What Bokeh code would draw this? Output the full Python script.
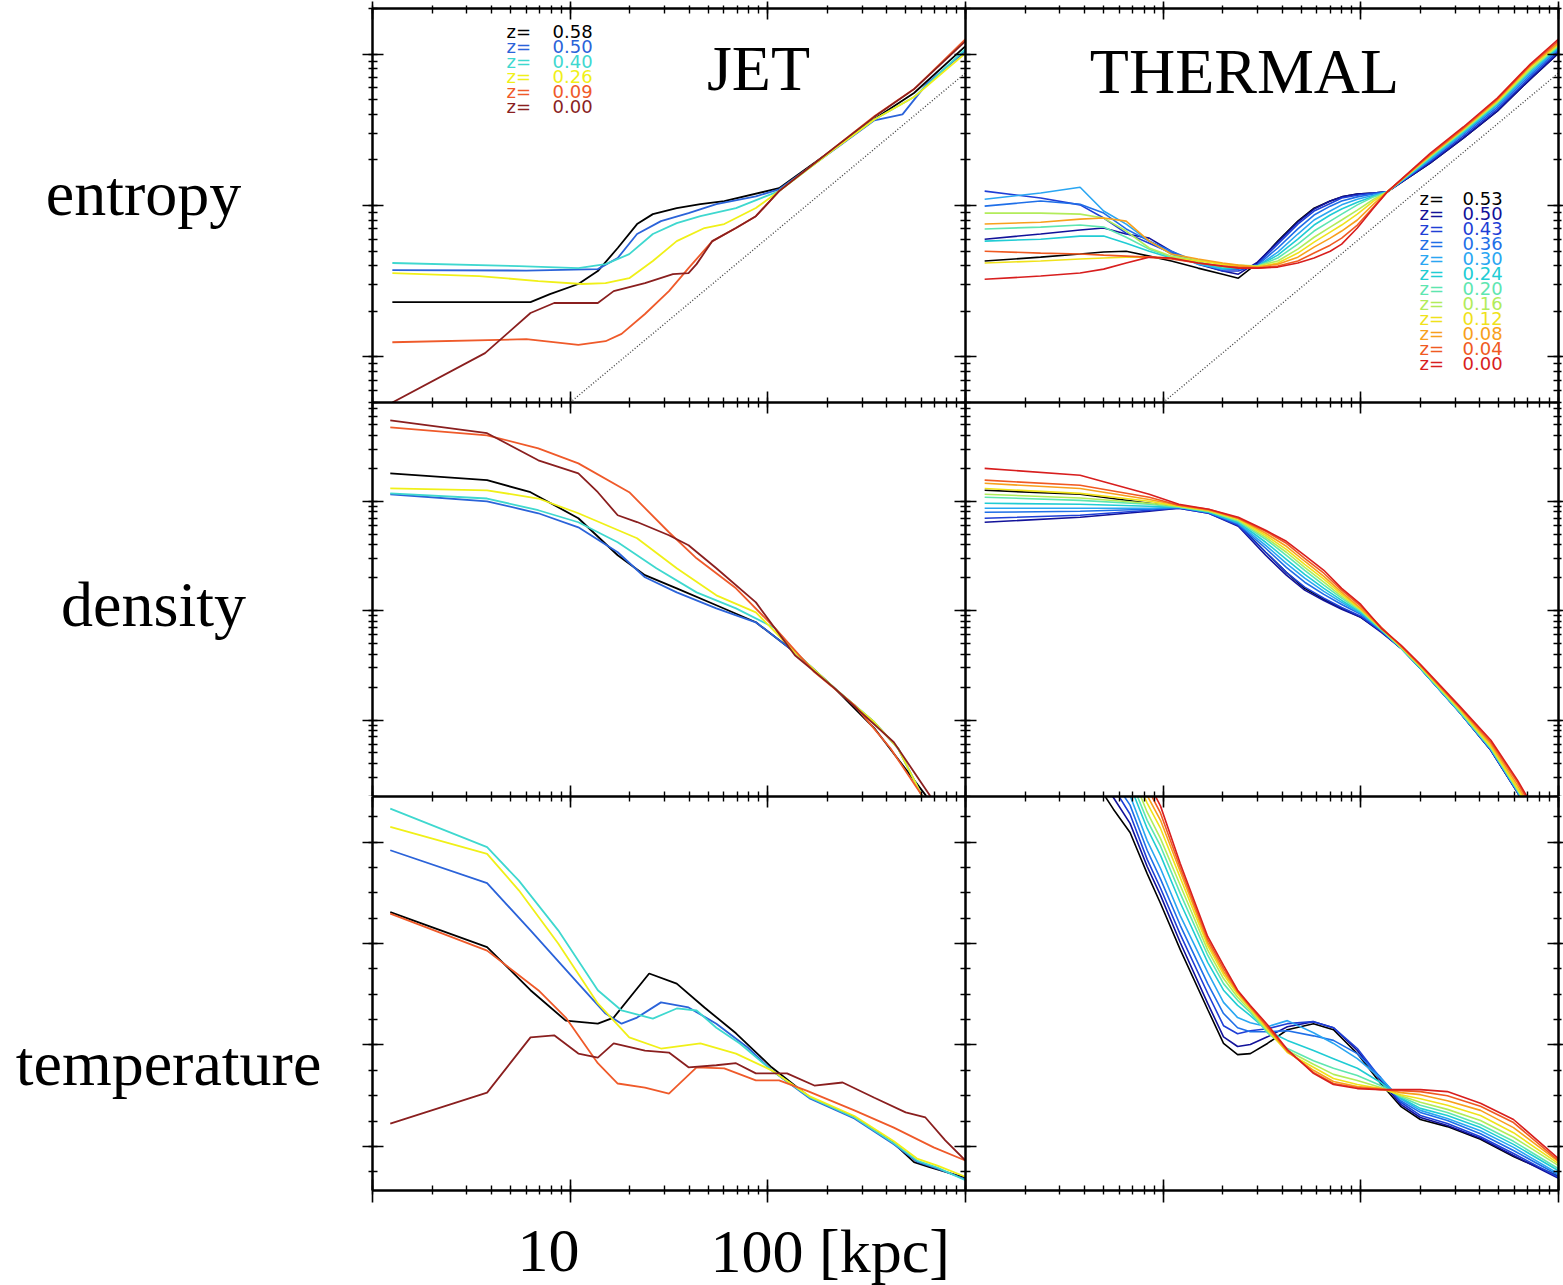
import math
from bokeh.plotting import figure
from bokeh.layouts import column, row
from bokeh.models import Range1d, LogAxis, LinearAxis, LogTicker, SingleIntervalTicker
from bokeh.core.properties import value
from bokeh.embed import file_html
from bokeh.resources import INLINE

# ------------------------------------------------------------------
# JET run: six snapshots (redshift, colour)
# ------------------------------------------------------------------
jet_z = ["0.58", "0.50", "0.40", "0.26", "0.09", "0.00"]
jet_colors = ["#000000", "#2b63d9", "#3fd8cf", "#f0f018", "#ef5a2a", "#8a1f1f"]

# entropy [keV cm^2] against radius [kpc]
jet_entropy_r = [
    [1.26, 6.3, 7.9, 11, 13.8, 17.4, 21.8, 26.2, 34.6, 45.6, 60.2, 114, 218, 346, 549, 1000],
    [1.26, 6.0, 13.8, 17.4, 21.8, 28.8, 39.7, 54.9, 87, 114, 218, 346, 480, 640, 1000],
    [1.26, 5.5, 11, 15.1, 19.9, 26.2, 34.6, 45.6, 69, 114, 218, 346, 549, 1000],
    [1.26, 3.46, 6.9, 11.5, 15.1, 19.9, 26.2, 34.6, 47.8, 60.2, 87, 114, 218, 346, 549, 1000],
    [1.26, 6.0, 11, 15.1, 18.2, 23.9, 31.6, 39.7, 52.4, 69, 87, 114, 218, 346, 549, 1000],
    [1.26, 3.71, 6.3, 8.3, 13.8, 16.6, 23.9, 33.1, 39.7, 43.6, 52.4, 69, 87, 114, 218, 346, 549, 1000],
]
jet_entropy_K = [
    [23.0, 23.0, 26.0, 30.3, 36.9, 52.4, 75.4, 87.7, 96.2, 102, 107, 130, 239, 372, 553, 1130],
    [37.4, 37.2, 38.0, 45.0, 64.8, 78.9, 89.1, 102, 115, 128, 235, 365, 400, 640, 1047],
    [41.7, 39.8, 38.6, 41.0, 47.7, 64.8, 76.5, 85, 96.2, 124.5, 237, 370, 520, 1080],
    [35.8, 34.2, 31.7, 30.3, 30.7, 33.1, 43.0, 58.2, 71, 75.4, 96.2, 124.5, 237, 370, 520, 1015],
    [12.5, 13.1, 12.0, 12.7, 14.2, 19.2, 27.2, 38.6, 58.2, 71, 85, 124.5, 242, 389, 587, 1256],
    [5.0, 10.6, 19.5, 22.7, 22.7, 27.2, 30.7, 35.2, 35.8, 41.0, 58.2, 71, 85, 124.5, 242, 385, 587, 1219],
]

# electron density [cm^-3]
jet_density_r = [
    [1.23, 3.8, 6.3, 11, 17.4, 23.9, 34.6, 54.9, 87, 137, 218, 346, 628, 680],
    [1.23, 3.8, 6.9, 11, 17.4, 23.9, 34.6, 54.9, 87, 137, 218, 346, 456, 600, 660],
    [1.23, 3.8, 6.9, 11, 17.4, 27.3, 43.6, 69, 109, 137, 218, 346, 456, 600, 660],
    [1.23, 3.8, 6.9, 11, 21.8, 34.6, 54.9, 87, 137, 218, 346, 456, 600, 660],
    [1.23, 3.8, 6.9, 11, 19.9, 31.6, 43.6, 69, 109, 172, 274, 417, 600, 660],
    [1.23, 3.8, 6.9, 11, 13.8, 17.4, 21.8, 31.6, 39.7, 54.9, 87, 137, 218, 434, 658, 720],
]
jet_density_n = [
    [0.180, 0.156, 0.121, 0.0700, 0.0321, 0.0211, 0.0160, 0.0112, 0.00783, 0.00417, 0.00195, 0.000841, 0.000206, 0.000135],
    [0.116, 0.100, 0.0777, 0.0578, 0.0342, 0.0202, 0.0147, 0.0105, 0.00783, 0.00417, 0.00195, 0.000955, 0.000552, 0.000206, 0.000135],
    [0.118, 0.106, 0.0828, 0.0643, 0.0422, 0.0244, 0.0147, 0.0105, 0.00690, 0.00417, 0.00195, 0.000955, 0.000552, 0.000206, 0.000135],
    [0.131, 0.126, 0.106, 0.0777, 0.0459, 0.0244, 0.0138, 0.00966, 0.00417, 0.00195, 0.000955, 0.000552, 0.000206, 0.000135],
    [0.474, 0.401, 0.305, 0.222, 0.121, 0.0521, 0.0301, 0.0160, 0.00690, 0.00274, 0.00137, 0.000552, 0.000206, 0.000135],
    [0.550, 0.419, 0.237, 0.180, 0.121, 0.0745, 0.0646, 0.0489, 0.0396, 0.0244, 0.0119, 0.00391, 0.00195, 0.000627, 0.000206, 0.00016],
]

# temperature [keV]
jet_temp_r = [
    [1.23, 3.8, 6.3, 9.5, 13.8, 16.6, 25.1, 34.6, 47.8, 69, 104.5, 164, 274, 434, 549, 658, 1000],
    [1.23, 3.8, 6.3, 11.0, 15.1, 18.2, 21.8, 28.8, 39.7, 54.9, 79.1, 104.5, 164, 274, 434, 568, 721, 1000],
    [1.23, 3.8, 5.5, 8.7, 13.8, 18.2, 26.2, 34.6, 43.6, 54.9, 72.2, 104.5, 164, 274, 434, 568, 721, 1000],
    [1.23, 3.8, 5.5, 8.7, 13.8, 19.9, 28.8, 45.6, 69, 104.5, 164, 274, 434, 568, 721, 1000],
    [1.23, 3.8, 6.9, 9.5, 13.8, 17.4, 23.9, 31.6, 43.6, 60.2, 87, 114, 157, 274, 434, 690, 1000],
    [1.23, 3.8, 6.3, 8.3, 11.0, 13.8, 16.6, 23.9, 31.6, 39.7, 54.9, 69, 87, 125, 172, 239, 346, 498, 627, 790, 1000],
]
jet_temp_T = [
    [6.62, 5.93, 5.08, 4.48, 4.42, 4.54, 5.41, 5.21, 4.74, 4.23, 3.56, 2.96, 2.57, 2.06, 1.69, 1.59, 1.38],
    [7.84, 7.19, 6.26, 5.21, 4.62, 4.42, 4.54, 4.84, 4.74, 4.42, 3.95, 3.50, 2.94, 2.55, 2.04, 1.70, 1.56, 1.35],
    [8.66, 7.90, 7.24, 6.26, 5.08, 4.68, 4.52, 4.72, 4.68, 4.34, 4.03, 3.50, 2.96, 2.57, 2.06, 1.72, 1.58, 1.33],
    [8.30, 7.77, 7.05, 6.00, 4.82, 4.15, 3.93, 4.03, 3.83, 3.50, 2.98, 2.60, 2.10, 1.76, 1.62, 1.40],
    [6.59, 5.86, 5.08, 4.54, 3.64, 3.24, 3.16, 3.04, 3.56, 3.54, 3.30, 3.30, 3.10, 2.71, 2.37, 1.98, 1.72],
    [2.45, 3.06, 4.15, 4.19, 3.83, 3.75, 4.03, 3.89, 3.85, 3.56, 3.60, 3.64, 3.44, 3.44, 3.20, 3.26, 2.96, 2.67, 2.57, 2.12, 1.72],
]

# ------------------------------------------------------------------
# THERMAL run: twelve snapshots on shared radial grids
# (a shorter profile uses the outer end of its grid)
# ------------------------------------------------------------------
thermal_z = ["0.53", "0.50", "0.43", "0.36", "0.30", "0.24", "0.20", "0.16", "0.12", "0.08", "0.04", "0.00"]
thermal_colors = ["#000000", "#12129a", "#1f3fd6", "#1f6fe8", "#2aa6f2", "#20ccd4",
                  "#5ee6b0", "#b2ec5a", "#f0e21a", "#f8a01c", "#f05a22", "#d81e1e"]

thermal_entropy_r = [1.25, 2.4, 3.8, 5, 6.5, 8.5, 11, 15, 20, 24, 30, 38, 48, 58, 70, 80, 96, 116, 136,
                     225, 330, 490, 720, 1000]
thermal_entropy_K = [
    [43.0, 45.6, 47.8, 49.3, 49.9, 46.3, 43.0, 38.6, 35.2, 33.1, 41.7, 58.2, 78.9, 96, 107, 114, 119, 121, 123, 191, 279, 420, 684, 1015],
    [59.9, 64.8, 68.9, 71, 64.8, 60.9, 49.9, 41.0, 36.9, 35.2, 42.3, 57.3, 77.6, 94.7, 107, 114, 119, 121, 123, 191, 279, 420, 684, 1015],
    [124.5, 112, 101, 82.6, 65.7, 56.4, 48.5, 41.7, 36.9, 36.9, 41.0, 55.6, 75.4, 91.9, 103, 112, 117, 121, 123, 196, 287, 433, 705, 1047],
    [99, 107, 102, 89.1, 70, 58.2, 49.9, 42.3, 38.0, 38.0, 40.4, 52.4, 70, 86.5, 99, 107, 114, 119, 123, 200, 296, 447, 727, 1080],
    [110, 121, 132, 91.9, 75.4, 58.2, 47.8, 41.0, 38.0, 38.6, 39.8, 49.2, 64.8, 80.2, 91.9, 101, 110, 117, 123, 202, 300, 460, 749, 1096],
    [58.2, 59.9, 62.8, 62.8, 56.4, 49.9, 45.0, 41.7, 38.6, 38.6, 39.8, 47.0, 59.9, 74.3, 86.5, 94.7, 105, 115, 123, 206, 305, 467, 772, 1112],
    [70, 72.0, 74.3, 72.0, 61.7, 51.5, 45.6, 42.3, 39.2, 39.2, 39.8, 45.0, 55.6, 67.8, 78.9, 87.7, 101, 114, 123, 209, 310, 475, 784, 1130],
    [89.1, 89.1, 87.7, 82.6, 67.8, 52.4, 46.3, 43.7, 41.0, 40.4, 39.8, 43.0, 51.5, 61.7, 72.0, 80.2, 93.2, 110, 123, 212, 315, 482, 796, 1147],
    [41.7, 43.0, 44.3, 45.0, 45.6, 45.6, 45.0, 43.0, 41.0, 39.8, 39.2, 41.7, 48.5, 57.3, 66.7, 74.3, 87.7, 107, 123, 215, 320, 490, 820, 1164],
    [75.4, 77.6, 81.3, 82.6, 78.9, 58.2, 47.8, 44.3, 41.7, 40.4, 39.2, 41.0, 45.6, 53.1, 60.9, 67.8, 80.2, 102, 123, 215, 320, 497, 833, 1182],
    [49.9, 48.5, 47.8, 47.0, 46.3, 45.6, 44.3, 41.7, 39.8, 39.2, 38.6, 39.8, 43.0, 48.5, 54.7, 60.9, 74.3, 97.6, 123, 218, 324, 504, 846, 1219],
    [32.6, 34.2, 35.8, 38.0, 41.7, 45.6, 45.0, 41.7, 39.8, 38.6, 38.6, 39.2, 41.7, 45.0, 49.9, 55.6, 71, 96.2, 123, 222, 330, 512, 859, 1256],
]

thermal_density_r = [1.25, 3.8, 8.5, 12, 17, 24, 33, 42, 52, 65, 80, 100, 127, 160, 200, 316, 455, 620, 720]
thermal_density_n = [
    [0.126, 0.116, 0.0959, 0.0881, 0.0793, 0.0616, 0.0342, 0.0224, 0.0160, 0.0127, 0.0105, 0.00870, 0.00648, 0.00453, 0.00298, 0.00118, 0.000529, 0.000218, 0.000136],
    [0.0643, 0.0714, 0.0810, 0.0863, 0.0777, 0.0591, 0.0321, 0.0211, 0.0154, 0.0124, 0.0103, 0.00870, 0.00634, 0.00453, 0.00298, 0.00118, 0.000529, 0.000218, 0.000136],
    [0.0699, 0.0745, 0.0827, 0.0863, 0.0777, 0.0603, 0.0342, 0.0224, 0.0164, 0.0130, 0.0107, 0.00889, 0.00648, 0.00453, 0.00298, 0.00118, 0.000529, 0.000218, 0.000136],
    [0.0793, 0.0810, 0.0845, 0.0881, 0.0793, 0.0616, 0.0372, 0.0249, 0.0182, 0.0141, 0.0114, 0.00927, 0.00662, 0.00453, 0.00298, 0.00118, 0.000540, 0.000223, 0.000136],
    [0.0863, 0.0863, 0.0863, 0.0881, 0.0793, 0.0629, 0.0396, 0.0271, 0.0198, 0.0150, 0.0119, 0.00947, 0.00662, 0.00453, 0.00298, 0.00118, 0.000540, 0.000223, 0.000139],
    [0.0959, 0.0939, 0.0900, 0.0881, 0.0793, 0.0643, 0.0422, 0.0295, 0.0215, 0.0160, 0.0124, 0.00967, 0.00662, 0.00453, 0.00298, 0.00120, 0.000552, 0.000228, 0.000142],
    [0.109, 0.102, 0.0939, 0.0881, 0.0810, 0.0656, 0.0450, 0.0321, 0.0234, 0.0171, 0.0130, 0.00988, 0.00676, 0.00453, 0.00304, 0.00120, 0.000552, 0.000228, 0.000145],
    [0.116, 0.107, 0.0959, 0.0900, 0.0810, 0.0670, 0.0469, 0.0342, 0.0249, 0.0182, 0.0135, 0.0101, 0.00676, 0.00463, 0.00304, 0.00123, 0.000562, 0.000233, 0.000148],
    [0.131, 0.118, 0.100, 0.0900, 0.0827, 0.0685, 0.0489, 0.0364, 0.0265, 0.0194, 0.0141, 0.0103, 0.00690, 0.00463, 0.00310, 0.00126, 0.000574, 0.000238, 0.000151],
    [0.146, 0.131, 0.104, 0.0919, 0.0827, 0.0699, 0.0510, 0.0388, 0.0283, 0.0206, 0.0147, 0.0105, 0.00690, 0.00473, 0.00317, 0.00128, 0.000600, 0.000253, 0.000157],
    [0.156, 0.140, 0.109, 0.0919, 0.0845, 0.0699, 0.0532, 0.0413, 0.0301, 0.0220, 0.0154, 0.0110, 0.00705, 0.00473, 0.00317, 0.00131, 0.000626, 0.000270, 0.000167],
    [0.200, 0.173, 0.116, 0.0939, 0.0845, 0.0714, 0.0543, 0.0431, 0.0321, 0.0234, 0.0160, 0.0114, 0.00690, 0.00483, 0.00324, 0.00134, 0.000654, 0.000282, 0.000177],
]

thermal_temp_r = [4.5, 5.6, 6.8, 8.3, 9.7, 12.2, 16.8, 20.2, 23.8, 27.6, 33.7, 42.5, 57.6, 72.7, 96, 126,
                  159, 200, 274, 403, 592, 1000]
thermal_temp_T = [
    [9.22, 8.65, 8.19, 7.38, 6.79, 5.88, 4.70, 4.03, 3.81, 3.83, 4.03, 4.30, 4.42, 4.30, 3.83, 3.24, 2.79, 2.53, 2.39, 2.14, 1.80, 1.41],
    [9.38, 8.88, 8.37, 7.52, 6.95, 6.02, 4.82, 4.16, 3.97, 4.01, 4.16, 4.36, 4.46, 4.34, 3.89, 3.30, 2.83, 2.57, 2.41, 2.16, 1.82, 1.37],
    [9.51, 9.08, 8.55, 7.66, 7.09, 6.18, 5.02, 4.38, 4.22, 4.28, 4.32, 4.42, 4.46, 4.34, 3.93, 3.34, 2.87, 2.61, 2.45, 2.19, 1.86, 1.39],
    [9.61, 9.22, 8.73, 7.84, 7.27, 6.36, 5.21, 4.62, 4.34, 4.26, 4.26, 4.28, 4.18, 4.09, 3.83, 3.36, 2.90, 2.67, 2.51, 2.25, 1.92, 1.43],
    [9.71, 9.38, 8.92, 8.03, 7.48, 6.55, 5.43, 4.84, 4.54, 4.44, 4.36, 4.48, 4.24, 4.03, 3.73, 3.34, 2.94, 2.71, 2.55, 2.31, 1.98, 1.46],
    [9.51, 9.12, 8.27, 7.74, 6.81, 5.63, 5.08, 4.78, 4.58, 4.28, 4.09, 3.89, 3.73, 3.54, 3.26, 2.96, 2.75, 2.61, 2.37, 2.04, 1.52],
    [9.65, 9.26, 8.43, 7.92, 6.99, 5.77, 5.21, 4.88, 4.64, 4.24, 3.93, 3.69, 3.54, 3.40, 3.20, 2.98, 2.81, 2.67, 2.43, 2.10, 1.56],
    [9.81, 9.42, 8.59, 8.07, 7.15, 5.87, 5.31, 4.94, 4.68, 4.28, 3.89, 3.62, 3.42, 3.30, 3.16, 3.00, 2.87, 2.73, 2.51, 2.18, 1.62],
    [9.51, 8.77, 8.27, 7.30, 5.96, 5.39, 5.00, 4.72, 4.30, 3.85, 3.56, 3.34, 3.22, 3.14, 3.02, 2.94, 2.81, 2.61, 2.27, 1.66],
    [9.61, 8.92, 8.43, 7.42, 6.02, 5.45, 5.04, 4.74, 4.34, 3.87, 3.50, 3.28, 3.18, 3.14, 3.06, 3.02, 2.90, 2.71, 2.37, 1.70],
    [9.71, 9.08, 8.57, 7.50, 6.08, 5.51, 5.06, 4.76, 4.36, 3.89, 3.46, 3.24, 3.16, 3.12, 3.10, 3.08, 3.00, 2.79, 2.47, 1.72],
    [9.81, 9.22, 8.71, 7.58, 6.14, 5.57, 5.08, 4.78, 4.40, 3.91, 3.44, 3.22, 3.14, 3.12, 3.12, 3.12, 3.08, 2.85, 2.53, 1.76],
]

# baseline entropy profile (dotted power law)
baseline_r = [10, 1000]
baseline_K = [5.0, 750]

# ------------------------------------------------------------------
# layout constants
# ------------------------------------------------------------------
FRAME_W, FRAME_H = 593, 394
FRAME_X = [372, 965]        # page x of the left edge of each panel column
ENTROPY_TOP = 8             # page y of the top of the entropy row
ENTROPY_RANGE = (5, 2000)
DENSITY_RANGE = (2e-4, 0.8)
TEMP_RANGE = (1.13, 8.9)
SERIF = "Liberation Serif"
SANS = "DejaVu Sans"
KEY_SIZE = "18px"
PANELS_H = 402 + 394 + 408  # height of the three panel rows
BOTTOM_H = 81


def x_at(col, X):
    """radius at page-pixel X inside panel column col"""
    return 10 ** (3.0 * (X - FRAME_X[col]) / FRAME_W)


def entropy_at(Y):
    lo, hi = ENTROPY_RANGE
    return 10 ** (math.log10(hi) - (Y - ENTROPY_TOP) / FRAME_H * math.log10(hi / lo))


def style_axis(ax, out_major, out_minor):
    ax.axis_line_color = "black"
    ax.axis_line_width = 2.5
    ax.major_tick_line_color = "black"
    ax.minor_tick_line_color = "black"
    ax.major_tick_line_width = 1.6
    ax.minor_tick_line_width = 1.4
    ax.major_tick_in = 11
    ax.minor_tick_in = 5
    ax.major_tick_out = out_major
    ax.minor_tick_out = out_minor
    ax.major_label_text_color = None
    ax.major_label_standoff = 0


def make_panel(y_type, y_rng, width, height, borders, outs):
    p = figure(width=width, height=height, x_axis_type="log", y_axis_type=y_type,
               x_range=Range1d(1, 1000), y_range=Range1d(*y_rng),
               x_axis_location=None, y_axis_location=None,
               min_border_left=borders[0], min_border_right=borders[1],
               min_border_top=borders[2], min_border_bottom=borders[3],
               outline_line_color=None, background_fill_color="white",
               border_fill_color="white", output_backend="svg", toolbar_location=None)
    p.grid.visible = False
    for side in ("below", "above", "left", "right"):
        if side in ("below", "above") or y_type == "log":
            ax = LogAxis(ticker=LogTicker(num_minor_ticks=10))
        else:
            ax = LinearAxis(ticker=SingleIntervalTicker(interval=2, num_minor_ticks=4))
        style_axis(ax, *outs.get(side, (0, 0)))
        p.add_layout(ax, side)
    return p


def label_fig(w, h):
    # plain canvas whose data units are page pixels (y grows downwards)
    p = figure(width=w, height=h, x_range=Range1d(0, w), y_range=Range1d(h, 0),
               x_axis_location=None, y_axis_location=None, min_border=0,
               outline_line_color=None, background_fill_color="white",
               border_fill_color="white", output_backend="svg", toolbar_location=None)
    p.grid.visible = False
    return p


def serif_text(p, x, y, txt, size, align="center"):
    p.text(x=[x], y=[y], text=[txt], text_align=align, text_baseline="middle",
           text_font=value(SERIF), text_font_size=size, text_color="black")


LW = 1.8

# ---- entropy row
p_je = make_panel("log", ENTROPY_RANGE, 605, 402, (12, 0, 8, 0), {"left": (10, 4), "above": (7, 3)})
p_te = make_panel("log", ENTROPY_RANGE, 598, 402, (0, 5, 8, 0), {"right": (5, 3), "above": (7, 3)})
for p in (p_je, p_te):
    p.line(baseline_r, baseline_K, line_color="#444444", line_width=1.4, line_dash="1 2")
for r, K, c in zip(jet_entropy_r, jet_entropy_K, jet_colors):
    p_je.line(r, K, line_color=c, line_width=LW)
for K, c in zip(thermal_entropy_K, thermal_colors):
    p_te.line(thermal_entropy_r[-len(K):], K, line_color=c, line_width=1.6)

# ---- density row
p_jd = make_panel("log", DENSITY_RANGE, 605, 394, (12, 0, 0, 0), {"left": (10, 4)})
p_td = make_panel("log", DENSITY_RANGE, 598, 394, (0, 5, 0, 0), {"right": (5, 3)})
for r, n, c in zip(jet_density_r, jet_density_n, jet_colors):
    p_jd.line(r, n, line_color=c, line_width=LW)
for n, c in zip(thermal_density_n, thermal_colors):
    p_td.line(thermal_density_r[-len(n):], n, line_color=c, line_width=1.6)

# ---- temperature row
p_jt = make_panel("linear", TEMP_RANGE, 605, 408, (12, 0, 0, 14), {"left": (10, 4), "below": (12, 4)})
p_tt = make_panel("linear", TEMP_RANGE, 598, 408, (0, 5, 0, 14), {"right": (5, 3), "below": (12, 4)})
for r, T, c in zip(jet_temp_r, jet_temp_T, jet_colors):
    p_jt.line(r, T, line_color=c, line_width=LW)
for T, c in zip(thermal_temp_T, thermal_colors):
    p_tt.line(thermal_temp_r[-len(T):], T, line_color=c, line_width=1.6)

# ---- run titles
serif_text(p_je, x_at(0, 758), entropy_at(68), "JET", "64px")
serif_text(p_te, x_at(1, 1244), entropy_at(71), "THERMAL", "64px")

# ---- redshift keys
jet_key_y = [entropy_at(30.5 + 15.1 * i) for i in range(len(jet_z))]
p_je.text(x=[x_at(0, 506)] * len(jet_z), y=jet_key_y, text=["z="] * len(jet_z), text_color=jet_colors,
          text_baseline="middle", text_font=value(SANS), text_font_size=KEY_SIZE)
p_je.text(x=[x_at(0, 552)] * len(jet_z), y=jet_key_y, text=jet_z, text_color=jet_colors,
          text_baseline="middle", text_font=value(SANS), text_font_size=KEY_SIZE)

th_key_y = [entropy_at(198 + 15.0 * i) for i in range(len(thermal_z))]
p_te.text(x=[x_at(1, 1419)] * len(thermal_z), y=th_key_y, text=["z="] * len(thermal_z),
          text_color=thermal_colors, text_baseline="middle", text_font=value(SANS), text_font_size=KEY_SIZE)
p_te.text(x=[x_at(1, 1462)] * len(thermal_z), y=th_key_y, text=thermal_z,
          text_color=thermal_colors, text_baseline="middle", text_font=value(SANS), text_font_size=KEY_SIZE)

# ---- row names (one column spanning the three rows) and radius labels
names = label_fig(360, PANELS_H)
serif_text(names, 143, 193, "entropy", "64px")
serif_text(names, 153, 604, "density", "64px")
serif_text(names, 168, 1063, "temperature", "64px")

bottom = label_fig(1563, BOTTOM_H)
serif_text(bottom, 548, 46, "10", "62px")
serif_text(bottom, 710, 46, "100 [kpc]", "62px", align="left")

panels = column(row(p_je, p_te), row(p_jd, p_td), row(p_jt, p_tt))
layout = column(row(names, panels), bottom)

with open("out.html", "w") as f:
    f.write(file_html(layout, INLINE))
